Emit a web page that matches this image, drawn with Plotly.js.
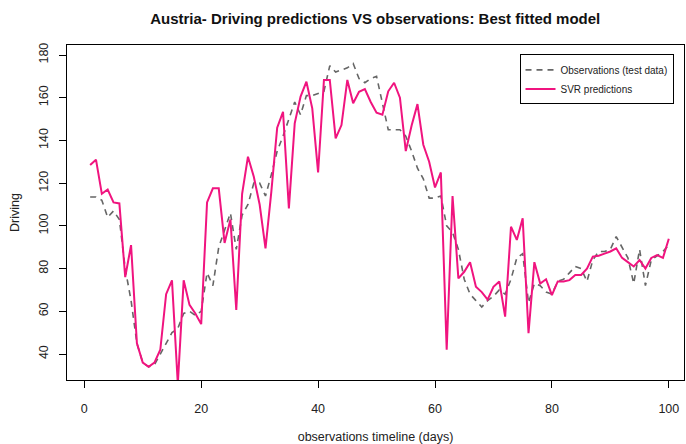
<!DOCTYPE html>
<html>
<head>
<meta charset="utf-8">
<script src="https://cdn.plot.ly/plotly-3.0.1.min.js"></script>
<style>
html,body{margin:0;padding:0;background:#fff;}
#chart{width:686px;height:444px;}
</style>
</head>
<body>
<div id="chart"></div>
<script>
// Day index (observations timeline)
var days = [];
for (var i = 1; i <= 100; i++) days.push(i);

// Observations (test data)
var observations = [
  113.5,113.5,112,104,107,103,80,65,45,36,
  34,35,40,45,50,52,59,60,58,60,
  78,72,90,98,106,89,105,110,120,120,
  114,124,135,142,150,158,152,161,161,162,
  163,175,172,173,174,176,169,167,169,170,
  158,145,145,145,142,135,127,122,113,113,
  114,100,97,89,75,68,65,62,65,67,
  70,68,75,85,87,64,73,72,69,68,
  74,75,78,81,80,74,84,88,88,89,
  95,90,85,73,89,72,84,86,88,91
];

// SVR predictions
var svr = [
  128.5,131,115,117,111,110.5,76,91,45,36,
  34,36,42,68,74.5,26,74.5,63,59,54,
  111,117.6,117.6,92,103,60.6,115,132.4,123,110,
  89.5,116,146,153.4,108.2,148,160.5,167.5,155,125,
  168.3,168.3,141,147.2,168.3,157.4,162.8,164,158,153,
  152,163,167,160,135,147,157,138,130,118,
  125,42,114,75.4,78.5,83,71.5,69,65.5,71.5,
  74,57.5,99.6,93.4,103.5,49.7,83,73,75,67.6,
  74,74,74.6,77,77,80,85.6,86,87,88,
  89.5,85,83,81,84,80,85,86.3,85,94
];

var xTicks = [0, 20, 40, 60, 80, 100];
var yTicks = [40, 60, 80, 100, 120, 140, 160, 180];

var traces = [
  {
    x: days, y: observations, type: 'scatter', mode: 'lines',
    name: 'Observations (test data)',
    line: {color: '#666666', width: 1.6, dash: '6px,5px'}
  },
  {
    x: days, y: svr, type: 'scatter', mode: 'lines',
    name: 'SVR predictions',
    line: {color: '#f0147f', width: 2}
  }
];

var axisFont = {family: 'Liberation Sans, Arial, sans-serif', size: 12.5, color: '#222'};

var layout = {
  width: 686, height: 444,
  paper_bgcolor: '#ffffff', plot_bgcolor: '#ffffff',
  margin: {l: 67, r: 2, t: 45, b: 64},
  title: {
    text: '<b>Austria- Driving predictions VS observations: Best fitted model</b>',
    font: {family: 'Liberation Sans, Arial, sans-serif', size: 15, color: '#111'},
    x: 0.547, xanchor: 'center', y: 0.958, yanchor: 'middle'
  },
  showlegend: true,
  legend: {
    x: 0.983, xanchor: 'right', y: 0.972, yanchor: 'top',
    bgcolor: '#ffffff', bordercolor: '#000', borderwidth: 1,
    font: {family: 'Liberation Sans, Arial, sans-serif', size: 10, color: '#222'},
    tracegroupgap: 0, itemwidth: 30
  },
  xaxis: {
    range: [-2.96, 102.6],
    tickvals: xTicks, ticktext: xTicks.map(String),
    ticks: 'outside', ticklen: 7, tickcolor: '#000', tickwidth: 1,
    ticklabelstandoff: 10,
    showline: true, linecolor: '#000', linewidth: 1, mirror: true,
    showgrid: false, zeroline: false,
    tickfont: axisFont,
    title: {text: 'observations timeline (days)', font: axisFont, standoff: 20}
  },
  yaxis: {
    range: [27.83, 184.68],
    tickvals: yTicks, ticktext: yTicks.map(String),
    tickangle: -90,
    ticks: 'outside', ticklen: 7, tickcolor: '#000', tickwidth: 1,
    ticklabelstandoff: 6,
    showline: true, linecolor: '#000', linewidth: 1, mirror: true,
    showgrid: false, zeroline: false,
    tickfont: axisFont,
    title: {text: 'Driving', font: axisFont, standoff: 14}
  }
};

Plotly.newPlot('chart', traces, layout, {displayModeBar: false, staticPlot: true});
</script>
</body>
</html>
